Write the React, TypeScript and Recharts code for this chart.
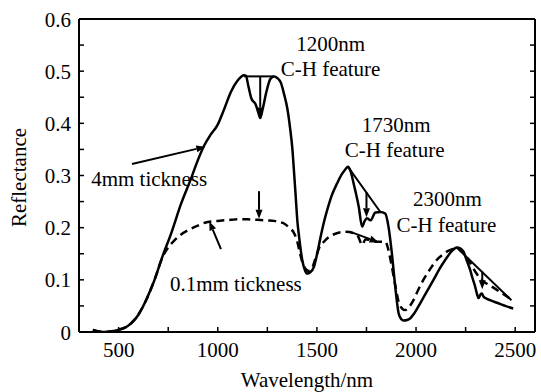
import React from "react"
import {
  ComposedChart,
  Line,
  XAxis,
  YAxis,
  ReferenceLine,
  ReferenceDot,
  Label,
} from "recharts"

// 4mm thick sample (solid)
const thickNm = [
  370, 400, 421, 460, 497, 530, 564, 600, 631, 660, 681, 723, 765, 815, 865, 900, 932, 960, 999, 1033,
  1066, 1100, 1133, 1142, 1155, 1170, 1190, 1205, 1214, 1225, 1245, 1265, 1284, 1300, 1318, 1335, 1351,
  1365, 1376, 1384, 1393, 1402, 1410, 1426, 1440, 1451, 1465, 1485, 1500, 1519, 1535, 1552, 1575, 1602,
  1625, 1644, 1657, 1670, 1685, 1711, 1728, 1740, 1753, 1770, 1795, 1820, 1845, 1861, 1878, 1895, 1912,
  1925, 1937, 1955, 1970, 1995, 2021, 2055, 2088, 2120, 2147, 2180, 2205, 2225, 2239, 2255, 2273, 2285,
  2298, 2308, 2315, 2325, 2332, 2340, 2355, 2373, 2400, 2423, 2450, 2490,
]
const thickR = [
  0.004, 0.001, 0, 0.001, 0.004, 0.008, 0.017, 0.033, 0.055, 0.08, 0.1, 0.147, 0.189, 0.246, 0.294, 0.33,
  0.358, 0.376, 0.397, 0.428, 0.46, 0.482, 0.492, 0.491, 0.47, 0.447, 0.437, 0.42, 0.41, 0.425, 0.46,
  0.485, 0.49, 0.487, 0.478, 0.455, 0.428, 0.39, 0.352, 0.31, 0.26, 0.21, 0.183, 0.138, 0.118, 0.112,
  0.114, 0.125, 0.148, 0.183, 0.21, 0.234, 0.262, 0.285, 0.302, 0.312, 0.317, 0.308, 0.285, 0.24, 0.202,
  0.212, 0.218, 0.214, 0.229, 0.23, 0.227, 0.202, 0.151, 0.087, 0.036, 0.025, 0.022, 0.023, 0.026,
  0.038, 0.055, 0.078, 0.1, 0.122, 0.138, 0.155, 0.162, 0.16, 0.154, 0.138, 0.119, 0.103, 0.087, 0.072,
  0.065, 0.072, 0.074, 0.068, 0.064, 0.061, 0.057, 0.054, 0.05, 0.045,
]

// 0.1mm thick sample (dashed)
const thinNm = [
  370, 421, 497, 564, 631, 681, 723, 750, 782, 815, 849, 900, 949, 1000, 1066, 1100, 1150, 1200, 1250,
  1284, 1310, 1334, 1360, 1384, 1401, 1415, 1430, 1445, 1458, 1475, 1492, 1510, 1535, 1578, 1646, 1703,
  1729, 1745, 1770, 1804, 1845, 1861, 1878, 1895, 1912, 1930, 1945, 1965, 1987, 2010, 2037, 2070, 2104,
  2140, 2170, 2213, 2235, 2255, 2280, 2305, 2330, 2355, 2390, 2423, 2455, 2483,
]
const thinR = [
  0.004, 0, 0.004, 0.017, 0.055, 0.1, 0.145, 0.162, 0.176, 0.187, 0.195, 0.204, 0.211, 0.213, 0.215,
  0.216, 0.216, 0.215, 0.214, 0.213, 0.211, 0.208, 0.2, 0.19, 0.173, 0.15, 0.13, 0.12, 0.117, 0.122,
  0.14, 0.16, 0.173, 0.186, 0.192, 0.186, 0.167, 0.178, 0.176, 0.173, 0.173, 0.157, 0.125, 0.09, 0.058,
  0.045, 0.042, 0.048, 0.061, 0.08, 0.1, 0.12, 0.138, 0.15, 0.157, 0.16, 0.155, 0.144, 0.128, 0.112, 0.1,
  0.093, 0.085, 0.077, 0.069, 0.061,
]

const xTicks = [500, 750, 1000, 1250, 1500, 1750, 2000, 2250, 2500]
const yTicks = [0, 0.05, 0.1, 0.15, 0.2, 0.25, 0.3, 0.35, 0.4, 0.45, 0.5, 0.55, 0.6]

// continuum lines drawn across the absorption features
const hulls = [
  [[1133, 0.49], [1284, 0.49]],
  [[1656, 0.317], [1820, 0.23]],
  [[2205, 0.162], [2481, 0.061]],
]
// arrows: [from, to]
const arrows = [
  [[567, 0.322], [937, 0.355]],
  [[1214, 0.49], [1214, 0.413]],
  [[1750, 0.268], [1750, 0.22]],
  [[2334, 0.116], [2334, 0.082]],
  [[1016, 0.159], [957, 0.212]],
  [[1208, 0.27], [1208, 0.217]],
  [[1669, 0.192], [1811, 0.172]],
]
const notes: [number, number, string][] = [
  [1570, 0.553, "1200nm"],
  [1569, 0.505, "C-H feature"],
  [1900, 0.398, "1730nm"],
  [1892, 0.349, "C-H feature"],
  [2158, 0.256, "2300nm"],
  [2153, 0.205, "C-H feature"],
  [654, 0.294, "4mm tickness"],
  [1091, 0.093, "0.1mm tickness"],
]

const thick = thickNm.map((x, i) => ({ x, y: thickR[i] }))
const thin = thinNm.map((x, i) => ({ x, y: thinR[i] }))

const txt: React.CSSProperties = {
  fontFamily: '"Liberation Serif", "Times New Roman", Times, "DejaVu Serif", serif',
  fontSize: 21,
  fill: "#000",
}

const BottomTick = (p: any) => {
  const v = p.payload.value
  if (v % 500 !== 0) return <g />
  return (
    <text x={p.x} y={p.y} dy="0.71em" textAnchor="middle" style={txt}>
      {v}
    </text>
  )
}

const LeftTick = (p: any) => {
  const v = p.payload.value
  if (Math.round(v * 100) % 10 !== 0) return <g />
  return (
    <text x={p.x} y={p.y} dy="0.36em" textAnchor="end" style={txt}>
      {v === 0 ? "0" : v.toFixed(1)}
    </text>
  )
}

const NoTick = () => <g />

const ArrowShape = (p: any) => {
  const { x1, y1, x2, y2 } = p
  const a = Math.atan2(y2 - y1, x2 - x1)
  const len = 9
  const half = 3.5
  const bx = x2 - len * Math.cos(a)
  const by = y2 - len * Math.sin(a)
  const px = -Math.sin(a) * half
  const py = Math.cos(a) * half
  return (
    <g>
      <line x1={x1} y1={y1} x2={bx} y2={by} stroke="#000" strokeWidth={2} />
      <polygon points={`${x2},${y2} ${bx + px},${by + py} ${bx - px},${by - py}`} fill="#000" />
    </g>
  )
}

export default function App() {
  return (
    <div style={{ position: "absolute", left: 0, top: 0, background: "#fff" }}>
      <ComposedChart width={541} height={392} margin={{ top: 14, right: 5, bottom: 0, left: 0 }}>
        <XAxis
          xAxisId="b"
          type="number"
          dataKey="x"
          domain={[300, 2600]}
          ticks={xTicks}
          allowDataOverflow
          height={60}
          tickSize={-5}
          tickMargin={15}
          tick={<BottomTick />}
          axisLine={{ stroke: "#000", strokeWidth: 2 }}
          tickLine={{ stroke: "#000", strokeWidth: 1.5 }}
        >
          <Label
            content={(p: any) => (
              <text x={p.viewBox.x + p.viewBox.width / 2} y={387} textAnchor="middle" style={txt}>
                Wavelength/nm
              </text>
            )}
          />
        </XAxis>
        <XAxis
          xAxisId="t"
          orientation="top"
          type="number"
          domain={[300, 2600]}
          ticks={xTicks}
          allowDataOverflow
          height={5}
          tickSize={-5}
          tick={<NoTick />}
          axisLine={{ stroke: "#000", strokeWidth: 2 }}
          tickLine={{ stroke: "#000", strokeWidth: 1.5 }}
        />
        <YAxis
          yAxisId="l"
          type="number"
          domain={[0, 0.6]}
          ticks={yTicks}
          allowDataOverflow
          width={79}
          tickSize={-5}
          tickMargin={13}
          tick={<LeftTick />}
          axisLine={{ stroke: "#000", strokeWidth: 2 }}
          tickLine={{ stroke: "#000", strokeWidth: 1.5 }}
        >
          <Label
            content={(p: any) => {
              const cy = p.viewBox.y + p.viewBox.height / 2 + 2
              return (
                <text x={26} y={cy} transform={`rotate(-90, 26, ${cy})`} textAnchor="middle" style={txt}>
                  Reflectance
                </text>
              )
            }}
          />
        </YAxis>
        <YAxis
          yAxisId="r"
          orientation="right"
          type="number"
          domain={[0, 0.6]}
          ticks={yTicks}
          allowDataOverflow
          width={1}
          tickSize={-5}
          tick={<NoTick />}
          axisLine={{ stroke: "#000", strokeWidth: 2 }}
          tickLine={{ stroke: "#000", strokeWidth: 1.5 }}
        />

        <Line
          xAxisId="b"
          yAxisId="l"
          data={thin}
          dataKey="y"
          type="monotone"
          stroke="#000"
          strokeWidth={2.5}
          strokeDasharray="8 5"
          dot={false}
          isAnimationActive={false}
        />
        <Line
          xAxisId="b"
          yAxisId="l"
          data={thick}
          dataKey="y"
          type="monotone"
          stroke="#000"
          strokeWidth={2.5}
          dot={false}
          isAnimationActive={false}
        />

        {hulls.map((h, i) => (
          <ReferenceLine
            key={`h${i}`}
            xAxisId="b"
            yAxisId="l"
            segment={[
              { x: h[0][0], y: h[0][1] },
              { x: h[1][0], y: h[1][1] },
            ]}
            stroke="#000"
            strokeWidth={2}
          />
        ))}
        {arrows.map((a, i) => (
          <ReferenceLine
            key={`a${i}`}
            xAxisId="b"
            yAxisId="l"
            segment={[
              { x: a[0][0], y: a[0][1] },
              { x: a[1][0], y: a[1][1] },
            ]}
            shape={ArrowShape}
          />
        ))}
        {notes.map(([x, y, t], i) => (
          <ReferenceDot
            key={`n${i}`}
            xAxisId="b"
            yAxisId="l"
            x={x}
            y={y}
            r={0}
            shape={(p: any) => (
              <text x={p.cx} y={p.cy} dy="0.34em" textAnchor="middle" style={txt}>
                {t}
              </text>
            )}
          />
        ))}
      </ComposedChart>
    </div>
  )
}
